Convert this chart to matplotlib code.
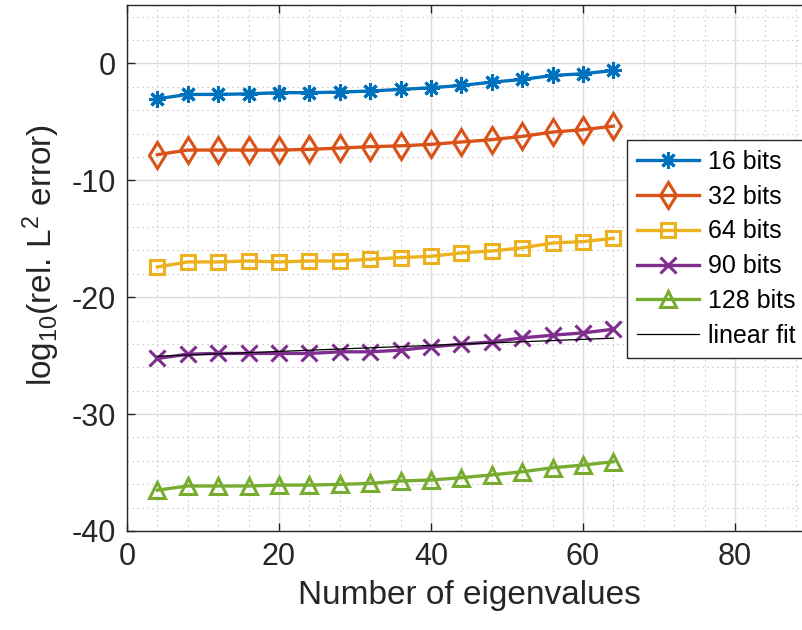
import matplotlib
matplotlib.use("Agg")
import matplotlib.pyplot as plt
from matplotlib.ticker import MultipleLocator

plt.rcParams['font.family'] = ['Liberation Sans', 'DejaVu Sans']
plt.rcParams['mathtext.default'] = 'regular'
plt.rcParams['axes.unicode_minus'] = False

# number of eigenvalues kept
n_eig = [4, 8, 12, 16, 20, 24, 28, 32, 36, 40, 44, 48, 52, 56, 60, 64]

# log10 of relative L2 error per precision
err_16 = [-3.02, -2.65, -2.65, -2.6, -2.5, -2.5, -2.45, -2.36, -2.22, -2.08, -1.88, -1.6, -1.37, -1.03, -0.88, -0.6]
err_32 = [-7.8, -7.41, -7.41, -7.41, -7.41, -7.35, -7.24, -7.12, -7.05, -6.92, -6.72, -6.52, -6.24, -5.87, -5.67, -5.36]
err_64 = [-17.41, -16.98, -16.98, -16.9, -16.98, -16.9, -16.9, -16.75, -16.61, -16.5, -16.21, -16.04, -15.78, -15.36, -15.24, -14.96]
err_90 = [-25.24, -24.87, -24.81, -24.81, -24.81, -24.81, -24.67, -24.67, -24.53, -24.25, -24.02, -23.82, -23.48, -23.25, -23.05, -22.74]
err_128 = [-36.5, -36.15, -36.15, -36.15, -36.07, -36.07, -36.01, -35.93, -35.72, -35.64, -35.44, -35.2, -34.93, -34.59, -34.36, -34.07]

# linear fit of the 90 bit curve (end points)
fit_x = [4, 64]
fit_y = [-25.05, -23.5]

labels = ['16 bits', '32 bits', '64 bits', '90 bits', '128 bits']
colors = ['#0072BD', '#D95319', '#EDB120', '#7E2F8E', '#77AC30']
markers = [(8, 2, 0), 'd', 's', 'x', '^']
msizes = [12, 13, 10, 11, 12]

fig = plt.figure(figsize=(8.03, 6.3), dpi=100)
ax = fig.add_axes([127 / 803, 99 / 630, 684 / 803, 526 / 630])

for y, lab, c, m, ms in zip([err_16, err_32, err_64, err_90, err_128], labels, colors, markers, msizes):
    ax.plot(n_eig, y, color=c, lw=2.4, marker=m, ms=ms, mfc='none', mec=c, mew=2.2, label=lab)
ax.plot(fit_x, fit_y, color='black', lw=0.9, label='linear fit')

ax.set_xlim(0, 90)
ax.set_ylim(-40, 5)
ax.xaxis.set_major_locator(MultipleLocator(20))
ax.xaxis.set_minor_locator(MultipleLocator(4))
ax.yaxis.set_major_locator(MultipleLocator(10))
ax.yaxis.set_minor_locator(MultipleLocator(2))

ax.grid(True, which='major', color='#dcdcdc', lw=1.0)
ax.grid(True, which='minor', color='#b4b4b4', lw=0.8, linestyle=(0, (1, 3.5)))
ax.set_axisbelow(True)

for s in ax.spines.values():
    s.set_color('#262626')
    s.set_linewidth(1.0)
ax.tick_params(which='major', direction='in', length=6, width=1.0, color='#262626',
               labelsize=22, labelcolor='#262626', top=True, right=True, pad=8)
ax.tick_params(which='minor', length=0)

ax.set_xlabel('Number of eigenvalues', fontsize=24, color='#262626', labelpad=6)
ax.set_ylabel('log$_{10}$(rel. L$^2$ error)', fontsize=24, color='#262626')
ax.yaxis.set_label_coords(-0.095, 0.525)

leg = ax.legend(loc='upper left', bbox_to_anchor=(627 / 803, 1 - 140 / 630),
                bbox_transform=fig.transFigure, fontsize=18, frameon=True, fancybox=False,
                framealpha=1, edgecolor='#262626', handlelength=2.5, handletextpad=0.35,
                labelspacing=0.43, borderpad=0.4, borderaxespad=0)
leg.get_frame().set_linewidth(1.0)

fig.savefig('out.png', dpi=100)
